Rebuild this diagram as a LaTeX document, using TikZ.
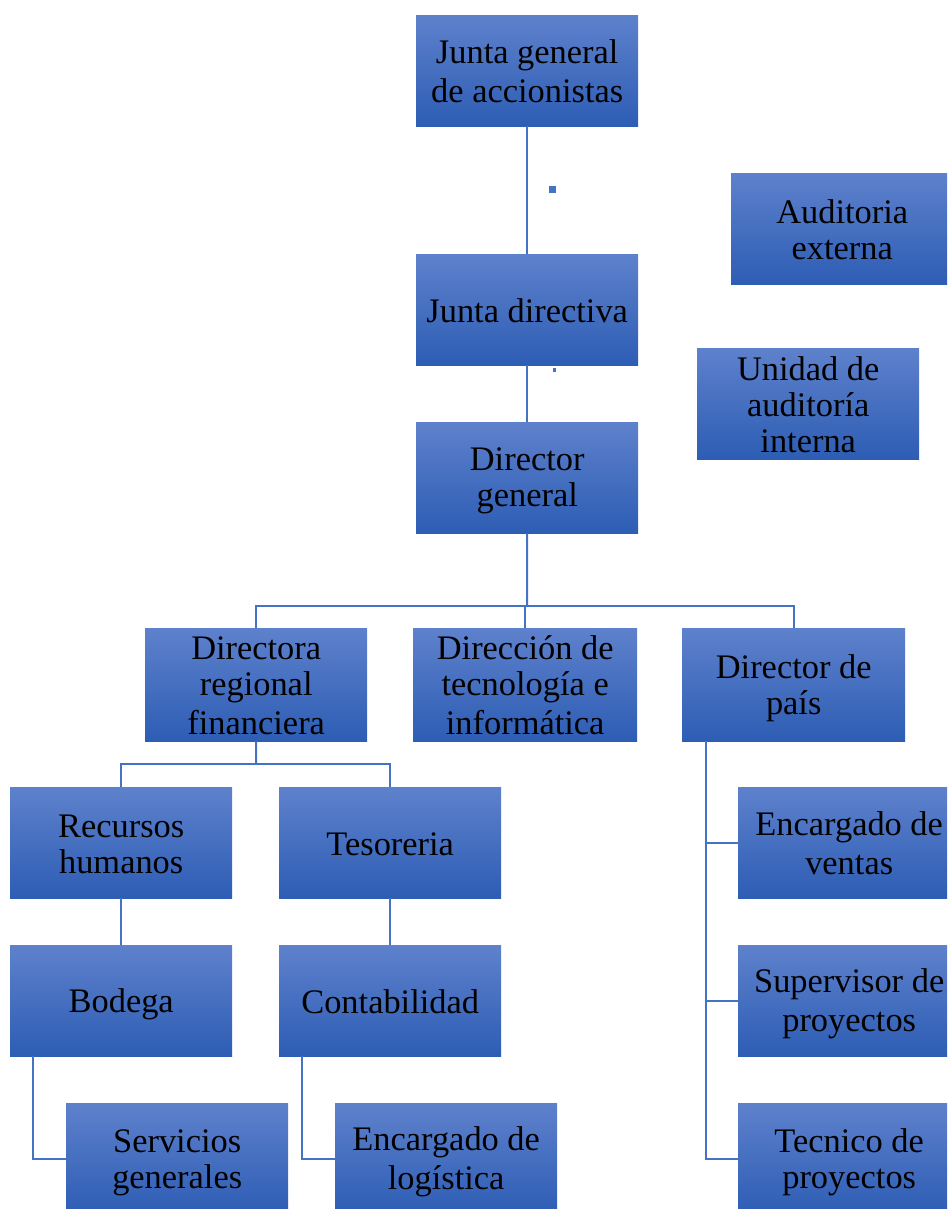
\documentclass[tikz,border=0pt]{standalone}
\usepackage{fontspec}
\setmainfont{Liberation Serif}
\definecolor{ln}{RGB}{68,114,196}
\definecolor{btop}{RGB}{94,129,204}
\definecolor{bmid}{RGB}{58,111,200}
\definecolor{bbot}{RGB}{45,93,180}
\newcommand{\st}{\rule[-5pt]{0pt}{35pt}}
\newcommand{\nl}{\\\st}
\tikzset{
  box/.style={anchor=north west, inner sep=0pt, align=center,
    top color=btop, middle color=bmid, bottom color=bbot, draw=none,
    font=\fontsize{34.4}{36}\selectfont, text=black},
  conn/.style={draw=ln, line width=2pt}
}
\newcommand{\bx}[6]{\node[box, minimum width={(#4-#2)*1pt}, minimum height={(#5-#3)*1pt}] (#1) at (#2,#3) {\st #6};}
\begin{document}
\begin{tikzpicture}[x=1pt,y=-1pt]
\useasboundingbox (0,0) rectangle (947,1209);
\clip (0,0) rectangle (947,1209);
\bx{jg}{416}{15}{638}{126}{Junta general\nl de accionistas}
\bx{ae}{731}{173}{953}{284}{Auditoria\nl externa}
\bx{jd}{416}{254}{638}{365}{Junta directiva}
\bx{ua}{697}{348}{919}{459}{Unidad de\nl auditoría\nl interna}
\bx{dg}{416}{422}{638}{533}{Director\nl general}
\bx{drf}{145}{628}{367}{741}{Directora\nl regional\nl financiera}
\bx{dt}{413}{628}{637}{741}{Dirección de\nl tecnología e\nl informática}
\bx{dp}{682}{628}{905}{741}{Director de\nl país}
\bx{rh}{10}{787}{232}{898}{Recursos\nl humanos}
\bx{te}{279}{787}{501}{898}{Tesoreria}
\bx{ev}{738}{787}{960}{898}{Encargado de\nl ventas}
\bx{bo}{10}{945}{232}{1056}{Bodega}
\bx{co}{279}{945}{501}{1056}{Contabilidad}
\bx{sp}{738}{945}{960}{1056}{Supervisor de\nl proyectos}
\bx{sg}{66}{1103}{288}{1214}{Servicios\nl generales}
\bx{el}{335}{1103}{557}{1214}{Encargado de\nl logística}
\bx{tp}{738}{1103}{960}{1214}{Tecnico de\nl proyectos}
% connectors
\draw[conn] (jg.south) -- (jd.north);
\draw[conn] (jd.south) -- (dg.north);
\coordinate (bus) at (527,606);
\draw[conn] (dg.south) -- (bus);
\draw[conn] (drf.north) -- (drf.north |- bus) -- (dp.north |- bus) -- (dp.north);
\draw[conn] (dt.north) -- (dt.north |- bus);
\coordinate (bus2) at (256,764);
\draw[conn] (drf.south) -- (bus2);
\draw[conn] (rh.north) -- (rh.north |- bus2) -- (te.north |- bus2) -- (te.north);
\draw[conn] (rh.south) -- (bo.north);
\draw[conn] (te.south) -- (co.north);
\coordinate (bl) at (33,1056);
\draw[conn] (bl) |- (sg.west);
\coordinate (cl) at (302,1056);
\draw[conn] (cl) |- (el.west);
\coordinate (dpl) at (706,741);
\draw[conn] (dpl) |- (tp.west);
\draw[conn] (dpl |- ev.west) -- (ev.west);
\draw[conn] (dpl |- sp.west) -- (sp.west);
% stray marks
\fill[ln] (549,186) rectangle (556,193);
\fill[ln] (553,368) rectangle (556,372);
\end{tikzpicture}
\end{document}
